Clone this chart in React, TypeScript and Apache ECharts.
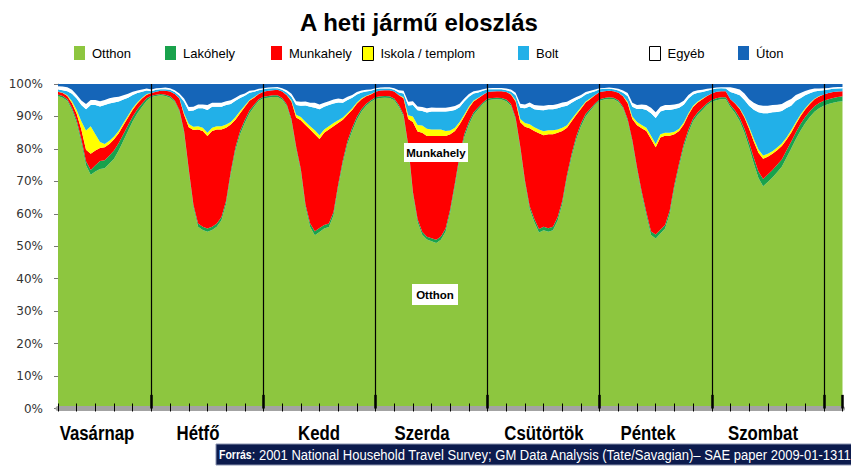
import React, { useEffect, useRef } from "react";
import * as echarts from "echarts";

// Week starts Sunday 04:00 (index 0), one value per hour, 169 points (to next Sunday 04:00)
const DAY_ABBR = ["V", "H", "K", "Sze", "Cs", "P", "Szo"];
const HOUR_LABELS = Array.from({ length: 169 }, (_, i) => {
  const t = 4 + i;
  const d = Math.floor(t / 24) % 7;
  const h = t % 24;
  return `${DAY_ABBR[d]} ${String(h).padStart(2, "0")}:00`;
});

const SERIES_NAMES = ["Otthon", "Lakóhely", "Munkahely", "Iskola / templom", "Bolt", "Egyéb", "Úton"];
const SERIES_COLORS = ["#8dc63f", "#19a24c", "#ff0000", "#ffff00", "#22b0e8", "#ffffff", "#1565b8"];

const otthon = [
  96.3, 95.8, 94.8, 92, 88, 82, 75, 72, 73, 73.8, 74, 75.5, 77, 79.5, 82.5, 85.5, 88.5, 91, 93, 94.8,
  96, 96.3, 96.5, 96.3, 95.8, 94.5, 91.5, 85, 73, 62, 56, 55, 54.5, 55, 56, 58, 63, 72, 79.5, 84.5, 88, 91, 93, 94.8,
  95.6, 95.8, 96, 96, 95.2, 93.2, 88.5, 80, 73, 62, 56, 53.5, 54.5, 55.5, 56, 59.5, 68, 75.5, 81.5, 85.5, 89, 91.5, 93.3, 94.5,
  95.4, 95.7, 95.8, 95.7, 95, 93, 90, 80.5, 66, 57.5, 53.5, 52, 51.5, 51, 52, 54.5, 60.5, 68.5, 77, 83.5, 87.5, 90.5, 92.2, 93.8,
  95, 95.2, 95.3, 95.2, 94.7, 93.3, 89, 80, 69.5, 61.5, 57.5, 54.3, 55, 54.5, 55, 58, 63, 71, 77.5, 83, 87, 90, 91.8, 93.5,
  94.8, 95.2, 95.4, 95.3, 94.5, 92.5, 88.5, 82, 73.5, 66, 59.5, 53.5, 52.5, 54, 55.5, 60, 68, 74.5, 80.5, 85, 88.5, 90.5, 92, 93.5,
  94.5, 95, 95.3, 95.3, 92.8, 91, 88.5, 85, 80.5, 75.5, 71, 68.5, 69.8, 71.2, 72.8, 74.5, 76.5, 79, 81.5, 84.5, 87, 89, 90.8, 92,
  93.3, 93.8, 94.2, 94.5, 94.7,
];

const lakohely = [
  0.5, 0.5, 0.5, 0.6, 0.8, 1, 1.2, 1.5, 2, 2.5, 2.5, 2.5, 2.5, 2.3, 2, 1.8, 1.5, 1.2, 1, 0.8,
  0.4, 0.4, 0.4, 0.4, 0.4, 0.4, 0.5, 0.5, 0.7, 0.8, 1, 1, 1, 1, 1, 1, 1, 1, 1, 1, 0.9, 0.8, 0.6, 0.5,
  0.5, 0.5, 0.5, 0.5, 0.5, 0.5, 0.6, 0.7, 0.8, 0.9, 1.1, 1.2, 1.2, 1.1, 1.1, 1.1, 1, 1, 1, 1, 0.9, 0.8, 0.6, 0.5,
  0.5, 0.5, 0.5, 0.5, 0.5, 0.5, 0.6, 0.7, 0.8, 0.9, 0.9, 0.9, 0.9, 1, 1, 1, 1, 1, 1, 1, 0.9, 0.8, 0.6, 0.5,
  0.5, 0.5, 0.5, 0.5, 0.5, 0.5, 0.6, 0.7, 0.8, 0.9, 1, 1.1, 1.1, 1.1, 1.1, 1.1, 1, 1, 1, 1, 0.9, 0.8, 0.6, 0.5,
  0.5, 0.5, 0.5, 0.5, 0.5, 0.5, 0.6, 0.7, 0.8, 0.9, 1, 1.1, 1.2, 1.2, 1.1, 1.1, 1.1, 1, 1, 1, 0.9, 0.8, 0.7, 0.6,
  0.6, 0.6, 0.6, 0.6, 0.7, 0.8, 1, 1.2, 1.5, 1.8, 2, 2.2, 2.3, 2.3, 2.3, 2.2, 2.2, 2.1, 2, 2, 1.9, 1.8, 1.7, 1.6,
  1.5, 1.5, 1.5, 1.5, 1.5,
];

const munkahely = [
  0.8, 0.9, 1, 1.5, 2, 3, 3.5, 5, 4.5, 4, 4, 3.5, 3.5, 3, 2.8, 2.4, 2.1, 1.8, 1.5, 1.1,
  0.8, 0.9, 1, 1.2, 1.5, 2, 3.5, 5, 13, 23, 29, 29.5, 28.5, 29.5, 29, 27, 22.5, 14.5, 8.5, 5.5, 4, 3, 2.2, 1.6,
  1.5, 1.6, 1.6, 1.7, 2, 2.8, 5.5, 9, 15, 24.5, 29, 30, 27.5, 28.5, 29, 26.5, 19, 12.5, 8, 5.5, 4, 3, 2.3, 1.8,
  1.7, 1.8, 1.8, 1.9, 2.2, 3, 5, 8, 21.5, 27, 30.5, 31, 31.5, 32, 31, 28.5, 23, 16, 9.5, 5.5, 4.2, 3.3, 2.8, 2.3,
  2, 2, 2, 2.1, 2.3, 3, 5, 7.5, 16.5, 24, 27, 29.5, 28.2, 29, 28.5, 26, 21.5, 14.5, 10, 6.5, 4.5, 3.5, 3, 2.5,
  2.2, 2.1, 2, 2, 2.3, 3.2, 5, 6.5, 13, 19.5, 25, 28.5, 27, 28.5, 27.5, 23, 15.5, 10, 6, 4.5, 3.5, 3, 2.6, 2.2,
  2, 2, 1.9, 1.9, 1.8, 2.2, 2.8, 3.5, 4.2, 5, 5.8, 6.3, 5.5, 5, 4.5, 4.2, 3.3, 2.8, 2.5, 2.4, 2.3, 2.2, 2.1, 2,
  2, 1.9, 1.8, 1.7, 1.6,
];

const iskola = [
  0.1, 0.1, 0.2, 0.6, 1.2, 2.5, 6, 8.5, 5, 1.8, 1, 1, 0.8, 0.8, 0.7, 0.6, 0.5, 0.4, 0.3, 0.2,
  0, 0, 0, 0, 0, 0, 0.1, 0.5, 1, 1, 1, 1, 1, 1, 1, 1, 1, 0.8, 0.8, 0.7, 0.5, 0.3, 0.2, 0.1,
  0, 0, 0, 0, 0, 0.1, 0.3, 0.8, 1, 1, 1, 1.2, 1.2, 1, 1, 1, 0.8, 0.7, 0.6, 0.5, 0.4, 0.3, 0.2, 0.1,
  0, 0, 0, 0, 0, 0.1, 0.3, 1.2, 1.7, 2, 2.2, 2.2, 2, 2, 2, 1.5, 1.2, 1, 0.8, 0.6, 0.5, 0.3, 0.2, 0.1,
  0, 0, 0, 0, 0, 0.1, 0.4, 1, 1.2, 1.2, 1.2, 1.2, 1.2, 1.2, 1.2, 1, 1, 0.8, 0.7, 0.6, 0.4, 0.3, 0.2, 0.1,
  0, 0, 0, 0, 0, 0.1, 0.4, 0.8, 1, 1, 1, 1, 1, 1, 1, 1, 0.8, 0.7, 0.6, 0.5, 0.4, 0.3, 0.2, 0.1,
  0, 0, 0, 0, 0, 0.1, 0.2, 0.4, 0.6, 0.8, 1, 1, 0.9, 0.8, 0.8, 0.8, 0.7, 0.7, 0.6, 0.5, 0.4, 0.3, 0.2, 0.1,
  0, 0, 0, 0, 0,
];

const bolt = [
  0.6, 0.8, 1.3, 2.3, 3.5, 5, 6.5, 6.5, 9, 11, 12, 11.5, 10.5, 9, 7.2, 5.5, 4, 2.8, 1.8, 1.1,
  0.6, 0.6, 0.5, 0.5, 0.5, 0.6, 0.8, 3.5, 4, 5, 5.5, 6, 7, 6.5, 6, 6, 6, 5.5, 5, 4, 3, 2.2, 1.6, 1.1,
  0.8, 0.7, 0.6, 0.5, 0.5, 0.8, 1.2, 3, 3.5, 5, 6, 7, 8, 7, 6.5, 6, 5.5, 4.5, 4, 3.3, 2.5, 1.8, 1.3, 1,
  0.8, 0.6, 0.5, 0.5, 0.5, 0.8, 1.2, 3, 3.5, 4.5, 4.5, 5, 5.5, 5.5, 5.5, 6, 6, 5.5, 4.5, 4, 3, 2.2, 1.6, 1.2,
  0.9, 0.7, 0.6, 0.6, 0.6, 0.8, 1.5, 3.5, 4.5, 5.5, 5.5, 6, 6.5, 6.5, 6.5, 6.5, 6.5, 6, 5, 4, 3, 2.2, 1.7, 1.2,
  0.9, 0.7, 0.6, 0.6, 0.7, 1, 1.7, 3, 4, 5, 5.5, 7, 8, 7, 7, 7, 7, 6.5, 5.5, 4.5, 3.5, 2.7, 2, 1.5,
  1.2, 1, 0.9, 0.8, 2.2, 3, 4, 5, 6.5, 9, 11.5, 13, 12.5, 12, 11, 10, 9, 7.5, 6.5, 5, 4, 3, 2.2, 1.6,
  1.3, 1.1, 1, 0.9, 0.9,
];

const egyeb = [
  1, 1.1, 1.2, 1.2, 1.2, 1.4, 1.6, 1.6, 1.6, 1.6, 1.6, 1.6, 1.6, 1.5, 1.3, 1.2, 1, 0.8, 0.7, 0.6,
  0.5, 0.5, 0.4, 0.5, 0.5, 0.6, 0.7, 1, 1.2, 1.2, 1.2, 1.2, 1.5, 1.2, 1.2, 1.2, 1.2, 1.2, 1, 0.9, 0.7, 0.6, 0.5, 0.4,
  0.3, 0.3, 0.3, 0.4, 0.5, 0.7, 0.9, 1.2, 1.2, 1.2, 1.2, 1.5, 1.5, 1.2, 1.2, 1.2, 1.2, 1.1, 1, 0.8, 0.7, 0.6, 0.5, 0.4,
  0.3, 0.3, 0.4, 0.4, 0.5, 0.7, 0.8, 1.1, 1.2, 1.2, 1.2, 1.3, 1.3, 1.2, 1.2, 1.2, 1.2, 1.2, 1.1, 0.9, 0.8, 0.7, 0.6, 0.5,
  0.3, 0.4, 0.4, 0.4, 0.5, 0.6, 0.8, 1.2, 1.2, 1.2, 1.3, 1.4, 1.4, 1.3, 1.3, 1.3, 1.3, 1.2, 1.1, 0.9, 0.8, 0.7, 0.6, 0.5,
  0.3, 0.3, 0.4, 0.4, 0.5, 0.7, 1, 1.2, 1.2, 1.3, 1.5, 1.7, 1.8, 1.5, 1.5, 1.5, 1.4, 1.3, 1.2, 1.1, 0.9, 0.8, 0.7, 0.6,
  0.4, 0.3, 0.3, 0.4, 1.5, 1.6, 1.8, 2, 2, 2.1, 2.2, 2.3, 2.3, 2.2, 2.2, 2.1, 2, 2, 1.8, 1.6, 1.3, 1.1, 0.9, 0.7,
  0.6, 0.5, 0.5, 0.5, 0.4,
];

const uton = [
  0.7, 0.8, 1, 1.8, 3.3, 5.1, 6.2, 4.9, 4.9, 5.3, 4.9, 4.4, 4.1, 3.9, 3.5, 3, 2.4, 2, 1.7, 1.4,
  1.7, 1.3, 1.2, 1.1, 1.3, 1.9, 2.9, 4.5, 7.1, 7, 6.3, 6.3, 6.5, 5.8, 5.8, 5.8, 5.3, 5, 4.2, 3.4, 2.9, 2.1, 1.9, 1.5,
  1.3, 1.1, 1, 0.9, 1.3, 1.9, 3, 5.3, 5.5, 5.4, 5.8, 5.8, 6.3, 5.8, 5.3, 4.8, 4.5, 4.7, 3.9, 3.4, 2.5, 2, 1.8, 1.7,
  1.3, 1.1, 1, 1, 1.3, 1.9, 2.1, 5.5, 5.3, 6.9, 7.1, 7.5, 7.2, 7.3, 7.3, 7.3, 7.1, 6.8, 6.1, 4.5, 3.1, 2.2, 2, 1.6,
  1.3, 1.2, 1.2, 1.2, 1.4, 1.7, 2.7, 6.1, 6.3, 5.7, 6.5, 6.6, 6.7, 6.5, 6.5, 6.2, 5.7, 5.5, 4.7, 4, 3.4, 2.5, 2.1, 1.7,
  1.3, 1.2, 1.1, 1.2, 1.5, 2, 2.8, 5.8, 6.5, 6.3, 6.5, 7.3, 8.7, 7, 6.5, 6.5, 6.3, 6, 5.2, 3.4, 2.3, 1.9, 1.8, 1.5,
  1.3, 1.1, 1, 1, 1, 1.3, 1.7, 2.9, 4.7, 5.8, 6.5, 6.7, 6.7, 6.5, 6.4, 6.2, 5.3, 4.6, 3.3, 2.7, 2.1, 1.7, 1.4, 1.4,
  1.3, 1.2, 1, 0.9, 0.9,
];

const RAW_SERIES = [otthon, lakohely, munkahely, iskola, bolt, egyeb, uton];

const DAY_LABELS = ["Vasárnap", "Hétfő", "Kedd", "Szerda", "Csütörtök", "Péntek", "Szombat"];
const DAY_LABEL_X = [97, 198, 319, 422, 544, 648, 763];
const MIDNIGHT_IDX = [20, 44, 68, 92, 116, 140, 164];
const DAY_START_TICKS = [0, 20, 44, 68, 92, 116, 140, 164];
const LEGEND_LEFT = [74, 165, 271, 362, 518, 649, 738];
const SOURCE_TEXT = ": 2001 National Household Travel Survey; GM Data Analysis (Tate/Savagian)– SAE paper 2009-01-1311";

const SANS = "'Liberation Sans', Arial, sans-serif";

export default function App() {
  const ref = useRef<HTMLDivElement>(null);

  useEffect(() => {
    if (!ref.current) return;
    const chart = echarts.init(ref.current, undefined, { renderer: "svg" });

    // 100% stacked: each column normalised to its total
    const totals = HOUR_LABELS.map((_, i) => RAW_SERIES.reduce((s, arr) => s + arr[i], 0));
    const shares = RAW_SERIES.map((arr) => arr.map((v, i) => (v / totals[i]) * 100));

    const series: any[] = SERIES_NAMES.map((name, k) => ({
      name,
      type: "line",
      stack: "total",
      data: shares[k],
      symbol: "none",
      showSymbol: false,
      lineStyle: { width: 0 },
      itemStyle: { color: SERIES_COLORS[k] },
      areaStyle: { color: SERIES_COLORS[k], opacity: 1 },
      emphasis: { disabled: true },
      silent: true,
      xAxisIndex: 0,
      yAxisIndex: 0,
    }));

    series[series.length - 1].markLine = {
      silent: true,
      symbol: ["none", "none"],
      label: { show: false },
      animation: false,
      data: [
        ...MIDNIGHT_IDX.map((i) => ({
          xAxis: HOUR_LABELS[i],
          lineStyle: { color: "#000", width: 1.2, type: "solid" },
        })),
        ...DAY_START_TICKS.map((i) => [
          { coord: [HOUR_LABELS[i], 0], lineStyle: { color: "#000", width: 2.5, type: "solid" } },
          { coord: [HOUR_LABELS[i], 4.2] },
        ]),
      ],
    };

    const legends = SERIES_NAMES.map((name, k) => ({
      data: [
        {
          name,
          icon: "rect",
          itemStyle:
            k === 5 || k === 3
              ? { color: SERIES_COLORS[k], borderColor: "#000", borderWidth: 1 }
              : { color: SERIES_COLORS[k] },
        },
      ],
      left: LEGEND_LEFT[k],
      top: 46,
      padding: 0,
      itemWidth: 11,
      itemHeight: 14,
      selectedMode: false,
      textStyle: { fontFamily: SANS, fontSize: 13, color: "#000", padding: [3, 0, 0, 2] },
    }));

    const graphics: any[] = [
      {
        type: "text",
        x: 419,
        y: 22,
        style: {
          text: "A heti jármű eloszlás",
          fill: "#000",
          fontFamily: SANS,
          fontWeight: "bold",
          fontSize: 24,
          align: "center",
          verticalAlign: "middle",
        },
      },
      ...DAY_LABELS.map((t, i) => ({
        type: "text",
        x: DAY_LABEL_X[i],
        y: 433,
        scaleX: 0.8,
        style: {
          text: t,
          fill: "#000",
          fontFamily: SANS,
          fontWeight: "bold",
          fontSize: 21,
          align: "center",
          verticalAlign: "middle",
        },
      })),
      { type: "rect", shape: { x: 404, y: 143, width: 64, height: 19 }, style: { fill: "#fff" }, z: 100 },
      {
        type: "text",
        x: 436,
        y: 152.5,
        z: 101,
        style: { text: "Munkahely", fill: "#000", fontFamily: SANS, fontWeight: "bold", fontSize: 11.5, align: "center", verticalAlign: "middle" },
      },
      { type: "rect", shape: { x: 412, y: 284, width: 46, height: 21 }, style: { fill: "#fff" }, z: 100 },
      {
        type: "text",
        x: 435,
        y: 294.5,
        z: 101,
        style: { text: "Otthon", fill: "#000", fontFamily: SANS, fontWeight: "bold", fontSize: 11.5, align: "center", verticalAlign: "middle" },
      },
      { type: "rect", shape: { x: 216, y: 444, width: 640, height: 21 }, style: { fill: "#0c1b4d", stroke: "#8a93b0", lineWidth: 1 }, z: 100 },
      {
        type: "text",
        x: 219,
        y: 455,
        z: 101,
        scaleX: 0.84,
        style: {
          text: "{b|Forrás}{n|" + SOURCE_TEXT + "}",
          verticalAlign: "middle",
          align: "left",
          rich: {
            b: { fill: "#fff", fontFamily: SANS, fontWeight: "bold", fontSize: 12.5 },
            n: { fill: "#fff", fontFamily: SANS, fontSize: 15.5 },
          },
        },
      },
    ];

    chart.setOption({
      animation: false,
      backgroundColor: "#fff",
      grid: { left: 58, right: 8.5, top: 84, bottom: 59.5, containLabel: false },
      legend: legends,
      xAxis: [
        {
          type: "category",
          data: HOUR_LABELS,
          boundaryGap: false,
          position: "bottom",
          axisLine: { show: true, lineStyle: { color: "#a3a3a3", width: 5 } },
          axisTick: { show: false },
          axisLabel: { show: false },
          splitLine: { show: false },
          z: 3,
        },
        {
          type: "category",
          data: HOUR_LABELS,
          boundaryGap: false,
          position: "bottom",
          offset: 3,
          axisLine: { show: false },
          axisTick: {
            show: true,
            inside: true,
            length: 8,
            interval: (i: number) => i % 4 === 0,
            lineStyle: { color: "#000", width: 1 },
          },
          axisLabel: { show: false },
          splitLine: { show: false },
          z: 4,
        },
      ],
      yAxis: {
        type: "value",
        min: 0,
        max: 100,
        interval: 10,
        axisLine: { show: true, lineStyle: { color: "#b5b5b5", type: "dotted" } },
        axisTick: { show: true, length: 4, lineStyle: { color: "#777" } },
        axisLabel: { formatter: "{value}%", color: "#333", fontFamily: "'DejaVu Sans', Verdana, sans-serif", fontSize: 12, margin: 15 },
        splitLine: { show: false },
      },
      series,
      graphic: graphics,
    });

    return () => chart.dispose();
  }, []);

  return (
    <div
      ref={ref}
      style={{ position: "absolute", left: 0, top: 0, width: 851, height: 468, background: "#fff" }}
    />
  );
}
